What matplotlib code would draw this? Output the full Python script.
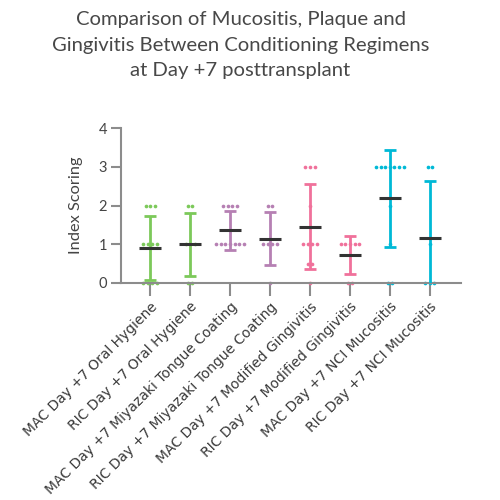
import numpy as np
import matplotlib
matplotlib.use("Agg")
import matplotlib.pyplot as plt

categories = [
    "MAC Day +7 Oral Hygiene",
    "RIC Day +7 Oral Hygiene",
    "MAC Day +7 Miyazaki Tongue Coating",
    "RIC Day +7 Miyazaki Tongue Coating",
    "MAC Day +7 Modified Gingivitis",
    "RIC Day +7 Modified Gingivitis",
    "MAC Day +7 NCI Mucositis",
    "RIC Day +7 NCI Mucositis",
]
mac_oral_hygiene = [2, 2, 2, 1, 1, 1, 1, 0, 0, 0, 0]
ric_oral_hygiene = [2, 2, 1, 1, 1, 0, 0]
mac_miyazaki = [2, 2, 2, 2, 1, 1, 1, 1, 1, 1, 1]
ric_miyazaki = [2, 2, 1, 1, 1, 1, 0]
mac_gingivitis = [3, 3, 3, 2, 1, 1, 1, 1, 0.5, 0.5, 0]
ric_gingivitis = [1, 1, 1, 1, 1, 0, 0]
mac_nci = [3, 3, 3, 3, 3, 3, 3, 2, 1, 0, 0]
ric_nci = [3, 3, 1, 0, 0, 0]
series = [mac_oral_hygiene, ric_oral_hygiene, mac_miyazaki, ric_miyazaki,
          mac_gingivitis, ric_gingivitis, mac_nci, ric_nci]
colors = ["#7cc95a", "#7cc95a", "#b680b3", "#b680b3",
          "#f0719b", "#f0719b", "#00b9d6", "#00b9d6"]
title = "Comparison of Mucositis, Plaque and\nGingivitis Between Conditioning Regimens\nat Day +7 posttransplant"

fig = plt.figure(figsize=(5, 5), dpi=100)
ax = fig.add_axes([0.242, 0.434, 0.680, 0.310])
spine_c = "#8c8c8c"

for i, (vals, c) in enumerate(zip(series, colors)):
    vals = np.array(vals, dtype=float)
    xs = []
    ys = []
    for v in np.unique(vals):
        k = int(np.sum(vals == v))
        offs = (np.arange(k) - (k - 1) / 2) * 0.115
        xs.extend(i + offs)
        ys.extend([v] * k)
    ax.scatter(xs, ys, s=7, color=c, zorder=2, clip_on=False, linewidths=0)
    m = vals.mean()
    sd = vals.std(ddof=1)
    ax.errorbar([i], [m], yerr=[sd], color=c, capsize=4.2, elinewidth=2,
                capthick=2, fmt="none", zorder=3)
    ax.hlines(m, i - 0.27, i + 0.27, color="#333333", lw=2.2, zorder=4)

ax.set_xlim(-0.73, 7.78)
ax.set_ylim(0, 4)
ax.set_xticks(range(len(categories)))
ax.set_xticklabels(categories, rotation=45, ha="right", rotation_mode="anchor",
                   fontsize=10, color="#3a3a3a", family="DejaVu Sans")
ax.set_yticks([0, 1, 2, 3, 4])
ax.set_yticklabels(["0", "1", "2", "3", "4"], fontsize=10.5, color="#444444", family="Lato")
ax.set_ylabel("Index Scoring", fontsize=11.8, color="#444444", family="Lato", labelpad=11)
for s in ["top", "right"]:
    ax.spines[s].set_visible(False)
for s in ["left", "bottom"]:
    ax.spines[s].set_color(spine_c)
    ax.spines[s].set_linewidth(1.5)
ax.tick_params(axis="x", length=9, width=1.5, color=spine_c, pad=3)
ax.tick_params(axis="y", length=7, width=1.5, color=spine_c, pad=3)

fig.text(0.481, 0.978, title, ha="center", va="top", fontsize=14.6, color="#484848",
         family="Lato", linespacing=1.62)

fig.savefig("out.png", dpi=100)
